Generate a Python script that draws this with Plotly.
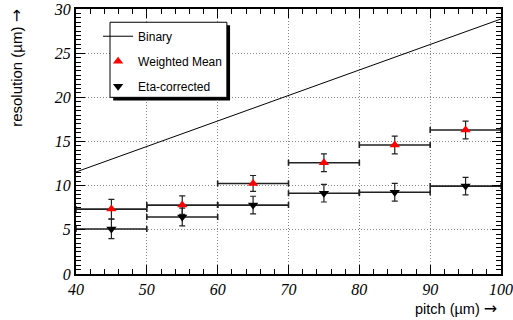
import plotly.graph_objects as go

pitch = [45, 55, 65, 75, 85, 95]
bin_half = [5, 5, 5, 5, 5, 5]
weighted_mean = [7.35, 7.8, 10.25, 12.6, 14.6, 16.3]
weighted_err = [1.1, 1.05, 0.9, 1.0, 1.0, 1.0]
eta_corrected = [5.1, 6.45, 7.8, 9.15, 9.25, 9.95]
eta_err = [1.1, 1.0, 1.0, 1.0, 1.0, 1.0]
binary_x = [40, 100]
binary_y = [11.55, 28.87]

fig = go.Figure()
fig.add_trace(go.Scatter(x=binary_x, y=binary_y, mode="lines", name="Binary",
                         line=dict(color="black", width=1), legendgroup="a"))
fig.add_trace(go.Scatter(x=pitch, y=weighted_mean, mode="markers", name="Weighted Mean",
                         marker=dict(symbol="triangle-up", color="red", size=9),
                         error_x=dict(type="data", array=bin_half, color="#222", thickness=1.6, width=3),
                         error_y=dict(type="data", array=weighted_err, color="#222", thickness=1.2, width=3),
                         legendgroup="b"))
fig.add_trace(go.Scatter(x=pitch, y=eta_corrected, mode="markers", name="Eta-corrected",
                         marker=dict(symbol="triangle-down", color="black", size=9),
                         error_x=dict(type="data", array=bin_half, color="#222", thickness=1.6, width=3),
                         error_y=dict(type="data", array=eta_err, color="#222", thickness=1.2, width=3),
                         legendgroup="c"))

tickfont = dict(family="Liberation Serif", size=16, style="italic", color="black")
axis_common = dict(showline=True, linecolor="black", linewidth=2, mirror="allticks",
                   ticks="inside", ticklen=9, tickwidth=1, tickcolor="black",
                   showgrid=True, gridcolor="#888", griddash="1px,2px", gridwidth=1,
                   zeroline=False, tickfont=tickfont, automargin=False)

fig.update_xaxes(range=[40, 100], dtick=10, tick0=40,
                 minor=dict(ticks="inside", ticklen=5, dtick=2, tickcolor="black", showgrid=False),
                 **axis_common)
fig.update_yaxes(range=[0, 30], dtick=5, tick0=0,
                 minor=dict(ticks="inside", ticklen=5, dtick=0.5, tickcolor="black", showgrid=False),
                 **axis_common)

# legend box with shadow
fig.add_shape(type="rect", xref="x", yref="y", x0=45.25, x1=61.75, y0=19.65, y1=28.15,
              fillcolor="black", line=dict(width=0), layer="above")
fig.add_shape(type="rect", xref="x", yref="y", x0=44.8, x1=61.3, y0=20.0, y1=28.5,
              fillcolor="white", line=dict(color="black", width=1), layer="above")

arrow = "<span style='font-family:DejaVu Sans;font-size:16px'>\u2192</span>"
fig.add_annotation(text="resolution (\u00b5m) " + arrow, xref="paper", yref="paper",
                   x=-0.14, y=1.01, xanchor="center", yanchor="top", textangle=-90,
                   showarrow=False, font=dict(family="Liberation Sans", size=15, color="black"))
fig.add_annotation(text="pitch (\u00b5m) " + arrow, xref="paper", yref="paper",
                   x=0.995, y=-0.13, xanchor="right", yanchor="middle",
                   showarrow=False, font=dict(family="Liberation Sans", size=14.5, color="black"))

fig.update_layout(
    template="none",
    width=513, height=320,
    margin=dict(l=76, r=12, t=9, b=46, autoexpand=False),
    paper_bgcolor="white", plot_bgcolor="white",
    showlegend=True,
    legend=dict(x=0.052, y=0.952, xanchor="left", yanchor="top",
                bgcolor="rgba(0,0,0,0)", borderwidth=0,
                font=dict(family="Liberation Sans", size=12, color="black"),
                tracegroupgap=6, itemwidth=30),
)

fig.write_html("out.html", config={"displayModeBar": False},
               post_script="document.body.style.margin='0';")
